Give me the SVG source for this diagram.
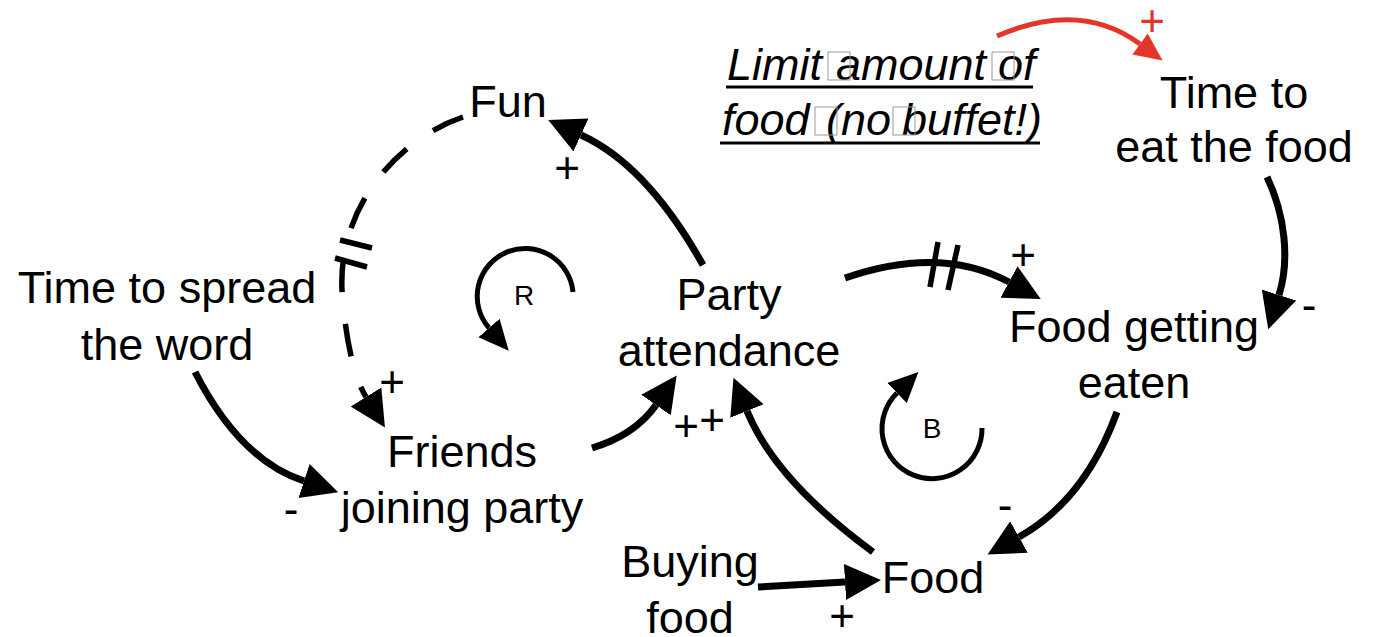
<svg xmlns="http://www.w3.org/2000/svg" width="1381" height="637" viewBox="0 0 1381 637">
<style>
text{font-family:"Liberation Sans",Arial,sans-serif;font-size:45px;fill:#000;text-anchor:middle}
.note{font-style:italic;text-anchor:start}
.sign{font-size:44px}
.loop{font-size:28px}
.red{fill:#e5352a}
.c{fill:none;stroke:#000;stroke-width:7}
.d{fill:none;stroke:#000;stroke-width:5.5;stroke-dasharray:33 32}
.l{fill:none;stroke:#000;stroke-width:5}
.h{stroke:#000;stroke-width:5.5}
.r{fill:none;stroke:#e5352a;stroke-width:5}
.tofu{fill:none;stroke:#999;stroke-width:1}
</style>
<defs>
<marker id="ah" markerUnits="userSpaceOnUse" markerWidth="40" markerHeight="40" viewBox="0 -20 40 40" refX="0" refY="0" orient="auto"><path d="M0,-18 L36,0 L0,18 z" fill="#000"/></marker>
<marker id="ahs" markerUnits="userSpaceOnUse" markerWidth="34" markerHeight="34" viewBox="0 -17 34 34" refX="0" refY="0" orient="auto"><path d="M0,-14 L30,0 L0,14 z" fill="#000"/></marker>
<marker id="ahr" markerUnits="userSpaceOnUse" markerWidth="32" markerHeight="32" viewBox="0 -16 32 32" refX="0" refY="0" orient="auto"><path d="M0,-13 L28,0 L0,13 z" fill="#e5352a"/></marker>
</defs>

<g id="connectors">
<path class="c" d="M703,265 Q647,165 581,135" marker-end="url(#ah)"/>
<path class="d" d="M463,117 C400,138 338,205 342,290 C345,335 353,376 366,397" marker-end="url(#ah)"/>
<line class="h" x1="340" y1="240" x2="372" y2="248"/>
<line class="h" x1="335" y1="258" x2="367" y2="267"/>
<path class="c" d="M195,372 Q240,460 304,481" marker-end="url(#ah)"/>
<path class="c" d="M592,448 Q635,435 656,405" marker-end="url(#ah)"/>
<path class="c" d="M873,552 Q775,480 747,411" marker-end="url(#ah)"/>
<path class="c" d="M758,587 L845,582" marker-end="url(#ah)"/>
<path class="c" d="M845,278 Q940,245 1009,282" marker-end="url(#ah)"/>
<line class="h" x1="930" y1="287" x2="938" y2="242"/>
<line class="h" x1="948" y1="290" x2="958" y2="245"/>
<path class="c" d="M1117,412 Q1085,500 1019,537" marker-end="url(#ah)"/>
<path class="c" d="M1267,177 C1285,215 1290,260 1279,295" marker-end="url(#ah)"/>
<path class="r" d="M997,36 Q1080,0 1140,44" marker-end="url(#ahr)"/>
</g>

<g id="polarity">
<text class="sign" x="567" y="183">+</text>
<text class="sign" x="392" y="397">+</text>
<text class="sign" x="291" y="524">-</text>
<text class="sign" x="686" y="441">+</text>
<text class="sign" x="712" y="435">+</text>
<text class="sign" x="1023" y="270">+</text>
<text class="sign" x="1309" y="320">-</text>
<text class="sign" x="1005" y="520">-</text>
<text class="sign" x="842" y="631">+</text>
<text class="sign red" x="1152" y="36">+</text>
</g>

<g id="loop-R">
<path class="l" d="M573,292 A48,48 0 1 0 489,328" marker-end="url(#ahs)"/>
<text class="loop" x="524" y="305">R</text>
</g>
<g id="loop-B">
<path class="l" d="M982,428 A50,50 0 1 1 897,393" marker-end="url(#ahs)"/>
<text class="loop" x="932" y="438">B</text>
</g>

<g id="fun"><text x="508" y="117">Fun</text></g>
<g id="time-spread"><text x="167" y="303">Time to spread</text><text x="167" y="360">the word</text></g>
<g id="party-attendance"><text x="729" y="310">Party</text><text x="729" y="366">attendance</text></g>
<g id="friends-joining"><text x="462" y="467">Friends</text><text x="462" y="523">joining party</text></g>
<g id="food-eaten"><text x="1134" y="342">Food getting</text><text x="1134" y="398">eaten</text></g>
<g id="time-eat"><text x="1234" y="108">Time to</text><text x="1234" y="162">eat the food</text></g>
<g id="food"><text x="933" y="593">Food</text></g>
<g id="buying-food"><text x="690" y="577">Buying</text><text x="690" y="633">food</text></g>
<g id="limit-food">
<text class="note" y="80"><tspan x="727">Limit</tspan> <tspan x="836">amount</tspan> <tspan x="998">of</tspan></text>
<text class="note" y="135"><tspan x="722">food</tspan> <tspan x="826">(no</tspan> <tspan x="902">buffet!)</tspan></text>
<line x1="726" y1="87" x2="1033" y2="87" stroke="#000" stroke-width="3"/>
<line x1="720" y1="143" x2="1040" y2="143" stroke="#000" stroke-width="3"/>
<rect class="tofu" x="828" y="52" width="22" height="28"/>
<rect class="tofu" x="992" y="52" width="22" height="28"/>
<rect class="tofu" x="815" y="107" width="22" height="28"/>
<rect class="tofu" x="893" y="107" width="22" height="28"/>
</g>
</svg>
